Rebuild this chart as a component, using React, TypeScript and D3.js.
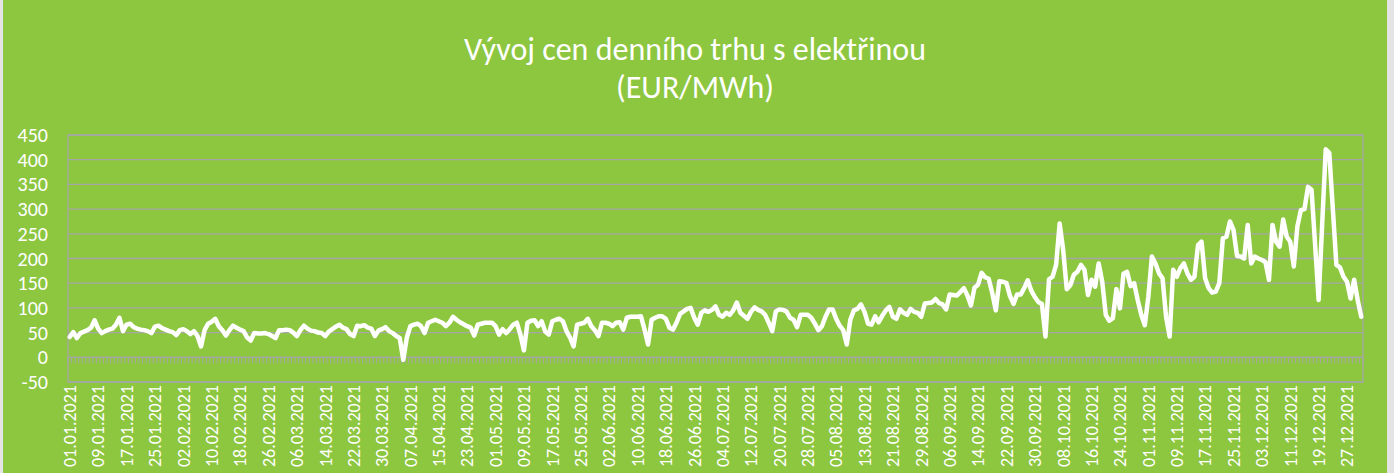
import React from "react";
import * as d3 from "d3";

// Daily base prices (EUR/MWh), 2021
const jan = [41, 51, 39, 49, 52, 55, 60, 75, 58, 49, 53, 56, 58, 66, 80, 53, 66, 68, 61, 58, 56, 55, 53, 49, 62, 64, 59, 56, 53, 51, 45];
const feb = [55, 57, 53, 47, 53, 43, 22, 55, 68, 72, 78, 63, 55, 44, 55, 64, 60, 56, 53, 40, 34, 49, 48, 48, 49, 47, 43, 39];
const mar = [55, 55, 56, 55, 50, 43, 55, 64, 58, 54, 53, 50, 49, 43, 52, 57, 62, 66, 60, 57, 47, 43, 64, 63, 65, 60, 58, 43, 54, 57, 61];
const apr = [53, 49, 43, 39, -5, 40, 63, 66, 68, 63, 49, 70, 73, 76, 73, 70, 63, 70, 82, 76, 71, 67, 63, 60, 44, 66, 68, 70, 70, 70];
const may = [63, 46, 57, 49, 57, 66, 70, 46, 14, 70, 74, 75, 63, 73, 52, 46, 73, 76, 78, 73, 53, 40, 22, 66, 68, 70, 78, 63, 55, 43, 70];
const jun = [70, 68, 63, 70, 71, 56, 80, 82, 82, 82, 83, 56, 26, 76, 80, 83, 83, 78, 60, 56, 70, 88, 93, 98, 100, 80, 66, 90, 95, 92];
const jul = [96, 103, 86, 82, 90, 86, 95, 111, 90, 84, 78, 92, 101, 96, 93, 86, 70, 53, 93, 97, 96, 93, 80, 76, 61, 86, 86, 86, 80, 68, 55];
const aug = [63, 82, 97, 97, 78, 64, 55, 26, 76, 95, 98, 107, 92, 68, 66, 83, 71, 84, 95, 102, 82, 78, 97, 90, 86, 98, 92, 90, 82, 109, 110];
const sep = [111, 118, 110, 107, 97, 127, 126, 125, 132, 140, 125, 105, 141, 147, 171, 162, 159, 130, 95, 154, 153, 150, 124, 108, 127, 127, 140, 156, 135, 122];
const oct = [112, 108, 42, 158, 163, 187, 271, 217, 138, 146, 167, 173, 187, 177, 126, 157, 143, 190, 153, 86, 74, 79, 138, 99, 169, 173, 144, 150, 116, 86, 65];
const nov = [123, 204, 190, 170, 160, 82, 42, 177, 163, 180, 190, 170, 157, 163, 227, 234, 160, 140, 131, 133, 150, 241, 244, 275, 258, 205, 204, 200, 268, 190];
const dec = [204, 200, 197, 193, 157, 268, 234, 224, 279, 244, 234, 184, 265, 298, 300, 345, 339, 228, 116, 270, 421, 414, 300, 187, 182, 163, 153, 119, 157, 116, 82];

const prices: number[] = [jan, feb, mar, apr, may, jun, jul, aug, sep, oct, nov, dec].flat();

const dates = d3.timeDay.range(new Date(2021, 0, 1), new Date(2022, 0, 1));
const fmt = d3.timeFormat("%d.%m.%Y");
const categories: string[] = dates.map((d) => fmt(d));

const yTicks = [-50, 0, 50, 100, 150, 200, 250, 300, 350, 400, 450];
const labelStep = 8;
const titleLines = ["Vývoj cen denního trhu s elektřinou", "(EUR/MWh)"];

const W = 1394;
const H = 473;
const BG = "#8DC63F";
const GRID = "#A6A6A6";
const FONT = "Carlito, Lato, 'Open Sans', sans-serif";

export default function App() {
  const left = 68;
  const right = 1363;
  const top = 135;
  const bottom = 382;

  const x = d3.scaleBand<string>().domain(categories).range([left, right]).padding(0);
  const bw = x.bandwidth();
  const cx = (c: string) => (x(c) as number) + bw / 2;
  const y = d3.scaleLinear().domain([-50, 450]).range([bottom, top]);

  const line = d3
    .line<number>()
    .x((_, i) => cx(categories[i]))
    .y((d) => y(d));

  const y0 = y(0);

  return (
    <div style={{ position: "absolute", left: 0, top: 0 }}>
      <svg width={W} height={H} style={{ display: "block" }}>
        <rect x={0} y={0} width={W} height={H} fill="#E4E4E4" />
        <rect x={3} y={0} width={1384} height={H} fill={BG} />

        {/* Title */}
        <text x={695} y={60} textAnchor="middle" fill="#fff" fontFamily={FONT} fontSize={32}>
          {titleLines[0]}
        </text>
        <text x={695} y={98} textAnchor="middle" fill="#fff" fontFamily={FONT} fontSize={32}>
          {titleLines[1]}
        </text>

        {/* Gridlines */}
        {yTicks.map((t) => (
          <line key={t} x1={left} x2={right} y1={y(t)} y2={y(t)} stroke={GRID} strokeWidth={1.3} />
        ))}
        {/* plot area border */}
        <rect x={left} y={top} width={right - left} height={bottom - top} fill="none" stroke={GRID} strokeWidth={1.3} />

        {/* Category axis at 0 with tick marks */}
        <line x1={left} x2={right} y1={y0} y2={y0} stroke={GRID} strokeWidth={1.3} />
        {categories.concat([""]).map((c, i) => {
          const xx = left + i * bw;
          return <line key={"t" + i} x1={xx} x2={xx} y1={y0} y2={y0 + 6} stroke={GRID} strokeWidth={1} />;
        })}

        {/* Y labels */}
        {yTicks.map((t) => (
          <text
            key={"yl" + t}
            x={48}
            y={y(t)}
            dy="0.35em"
            textAnchor="end"
            fill="#fff"
            fontFamily={FONT}
            fontSize={20}
          >
            {t}
          </text>
        ))}

        {/* X labels */}
        {categories.map((c, i) =>
          i % labelStep === 0 ? (
            <text
              key={"xl" + i}
              transform={`translate(${cx(c)},${bottom + 3}) rotate(-90)`}
              dy="0.35em"
              textAnchor="end"
              fill="#fff"
              fontFamily={FONT}
              fontSize={18}
            >
              {c}
            </text>
          ) : null
        )}

        {/* Price line */}
        <path
          d={line(prices) || ""}
          fill="none"
          stroke="#fff"
          strokeWidth={4.5}
          strokeLinejoin="round"
          strokeLinecap="round"
        />
      </svg>
    </div>
  );
}
